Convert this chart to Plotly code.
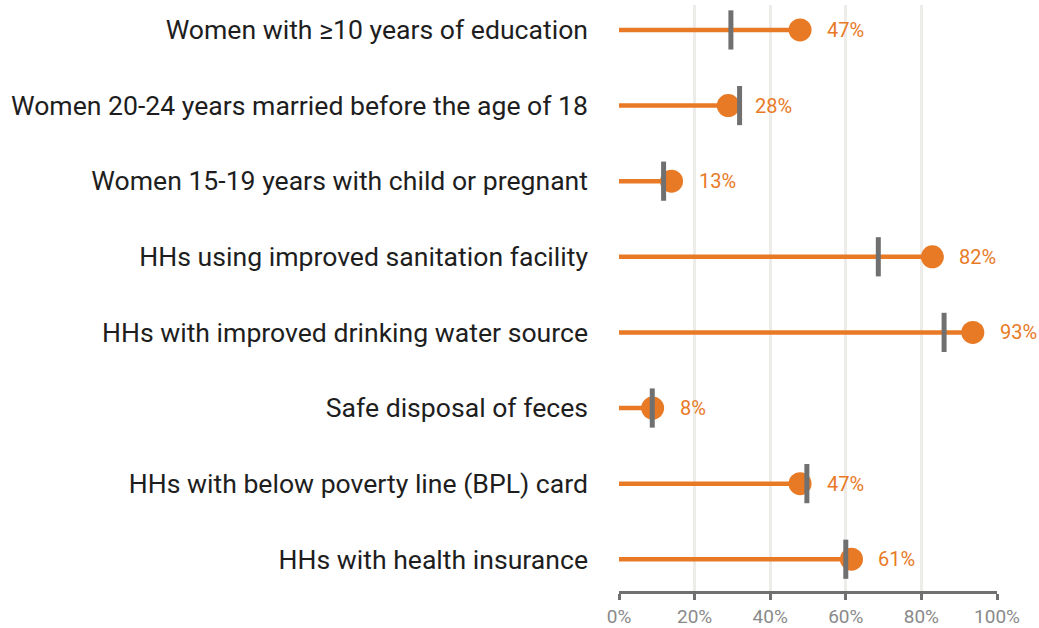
import plotly.graph_objects as go

categories = [
    "Women with ≥10 years of education",
    "Women 20-24 years married before the age of 18",
    "Women 15-19 years with child or pregnant",
    "HHs using improved sanitation facility",
    "HHs with improved drinking water source",
    "Safe disposal of feces",
    "HHs with below poverty line (BPL) card",
    "HHs with health insurance",
]
values = [47.9, 28.9, 13.9, 82.9, 93.6, 8.9, 47.9, 61.5]
benchmark = [29.6, 31.9, 11.8, 68.6, 86.0, 8.8, 49.7, 60.0]
value_labels = ["47%", "28%", "13%", "82%", "93%", "8%", "47%", "61%"]
x_ticks = [0, 20, 40, 60, 80, 100]
x_tick_text = ["0%", "20%", "40%", "60%", "80%", "100%"]

ORANGE = "#E87A26"
GREY = "#707070"

ypos = list(range(len(categories)))

line_x, line_y = [], []
for i, v in enumerate(values):
    line_x += [0, v, None]
    line_y += [ypos[i], ypos[i], None]

fig = go.Figure()
fig.add_trace(go.Scatter(x=line_x, y=line_y, mode="lines",
                         line=dict(color=ORANGE, width=4.5), hoverinfo="skip", showlegend=False))
fig.add_trace(go.Scatter(x=values, y=ypos, mode="markers",
                         marker=dict(color=ORANGE, size=23, line=dict(width=0)), showlegend=False))
fig.add_trace(go.Scatter(x=benchmark, y=ypos, mode="markers",
                         marker=dict(symbol="line-ns", size=28, line=dict(color=GREY, width=5)),
                         showlegend=False))

for i, v in enumerate(values):
    fig.add_annotation(x=v, y=ypos[i], text=value_labels[i], showarrow=False,
                       xanchor="left", xshift=25, font=dict(color=ORANGE, size=20, family="Roboto"))

fig.update_layout(
    width=1039, height=628,
    margin=dict(l=619, r=42, t=5, b=37, autoexpand=False),
    paper_bgcolor="white", plot_bgcolor="white",
    font=dict(family="Roboto"),
)
fig.update_xaxes(range=[0, 100], tickvals=x_ticks, ticktext=x_tick_text,
                 showgrid=True, gridcolor="#EEECE8", gridwidth=2.5,
                 showline=True, linecolor=GREY, linewidth=3,
                 ticks="outside", ticklen=6, tickwidth=3, tickcolor=GREY,
                 tickfont=dict(size=19, color="#8A8A8A"), zeroline=False, fixedrange=True,
                 automargin=False)
fig.update_yaxes(range=[7.42, -0.33], tickvals=ypos, ticktext=categories,
                 showgrid=False, zeroline=False, showline=False, ticks="",
                 ticklabelstandoff=30, automargin=False,
                 tickfont=dict(size=26.6, color="#1E1E1E"), fixedrange=True)

fig.write_html("out.html", config={"displayModeBar": False})

with open("out.html", "r", encoding="utf-8") as f:
    html = f.read()
html = html.replace("<body>", '<body style="margin:0;padding:0;">', 1)
with open("out.html", "w", encoding="utf-8") as f:
    f.write(html)
